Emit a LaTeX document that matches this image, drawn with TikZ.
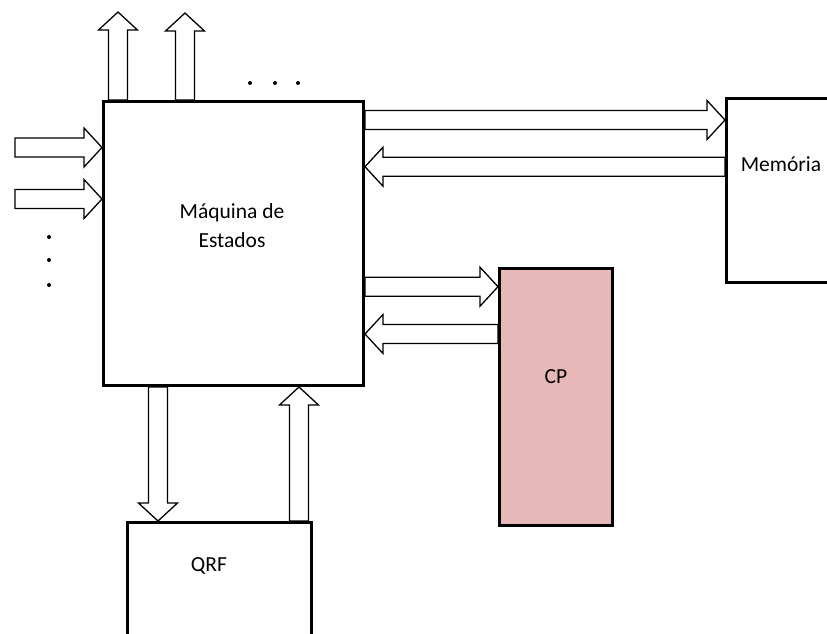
\documentclass[tikz,border=0pt]{standalone}
\usepackage{fontspec}
\setmainfont{Carlito}
\usetikzlibrary{calc,backgrounds}
\definecolor{cpfill}{RGB}{230,184,183}
\tikzset{
  box/.style={draw=black, line width=3pt, fill=white, inner sep=0pt, anchor=north west},
  lbl/.style={font=\fontsize{21.5}{29}\selectfont, align=center, inner sep=0pt},
  barrow/.style={draw=black, fill=white, line width=1.3pt, line join=miter},
}
\newcommand\blockarr[2]{%
  \coordinate (tmpC) at ($(#2)!18pt!(#1)$);
  \draw[barrow] ($(#1)!9.5pt!-90:(#2)$) -- ($(tmpC)!9.5pt!-90:(#2)$) -- ($(tmpC)!19.5pt!-90:(#2)$)
    -- (#2) -- ($(tmpC)!19.5pt!90:(#2)$) -- ($(tmpC)!9.5pt!90:(#2)$) -- ($(#1)!9.5pt!90:(#2)$) -- cycle;
}
\begin{document}
\begin{tikzpicture}[x=1pt,y=-1pt]
\useasboundingbox (0,0) rectangle (827,633);
% boxes
\node[box, minimum width=260pt, minimum height=284pt] (main) at (102,100) {};
\node[box, minimum width=130pt, minimum height=184pt] (mem) at (725,97) {};
\node[box, fill=cpfill, minimum width=113pt, minimum height=257pt] (cp) at (498,267) {};
\node[box, minimum width=184pt, minimum height=140pt] (qrf) at (126,521) {};
% labels
\node[lbl] (maintxt) at (232,226) {Máquina de\\Estados};
\node[lbl] (memtxt) at (781,164) {Memória};
\node[lbl] (cptxt) at (556,377) {CP};
\node[lbl] (qrftxt) at (209,566) {QRF};
% free ends and reference lines
\coordinate (o1) at (118,12);
\coordinate (o2) at (185,13);
\coordinate (i1) at (15,147.5);
\coordinate (i2) at (15,199);
\coordinate (ymo) at (0,120);
\coordinate (ymi) at (0,166.7);
\coordinate (yco) at (0,286.7);
\coordinate (yci) at (0,334);
\coordinate (xdn) at (158,0);
\coordinate (xup) at (299,0);
\coordinate (o1s) at (main.north -| o1);
\coordinate (o2s) at (main.north -| o2);
\coordinate (i1e) at (main.west |- i1);
\coordinate (i2e) at (main.west |- i2);
\coordinate (mos) at (main.east |- ymo);
\coordinate (moe) at (mem.west |- ymo);
\coordinate (mis) at (mem.west |- ymi);
\coordinate (mie) at (main.east |- ymi);
\coordinate (cos) at (main.east |- yco);
\coordinate (coe) at (cp.west |- yco);
\coordinate (cis) at (cp.west |- yci);
\coordinate (cie) at (main.east |- yci);
\coordinate (dns) at (main.south -| xdn);
\coordinate (dne) at (qrf.north -| xdn);
\coordinate (ups) at (qrf.north -| xup);
\coordinate (upe) at (main.south -| xup);
\begin{pgfonlayer}{background}
\blockarr{o1s}{o1}
\blockarr{o2s}{o2}
\blockarr{i1}{i1e}
\blockarr{i2}{i2e}
\blockarr{mos}{moe}
\blockarr{mis}{mie}
\blockarr{cos}{coe}
\blockarr{cis}{cie}
\blockarr{dns}{dne}
\blockarr{ups}{upe}
\end{pgfonlayer}
% ellipsis dots
\foreach \p in {(250,83),(275,83),(298,83),(49,237),(49,260),(49,285)}
  \fill \p circle (2pt);
\end{tikzpicture}
\end{document}
